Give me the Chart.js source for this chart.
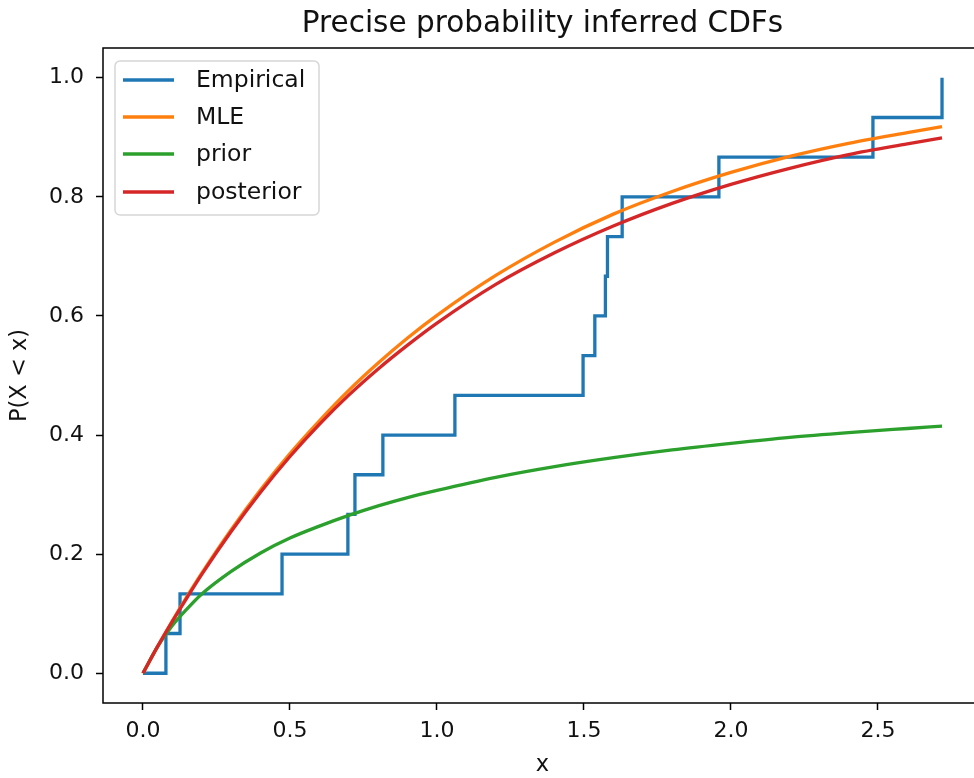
<!DOCTYPE html>
<html>
<head>
<meta charset="utf-8">
<script src="https://cdn.jsdelivr.net/npm/chart.js@4/dist/chart.umd.min.js"></script>
<style>
  html, body { margin: 0; padding: 0; background: #fff; overflow: hidden; }
  #wrap { position: absolute; left: 0; top: 0; width: 990px; height: 778px; }
</style>
</head>
<body>
<div id="wrap"><canvas id="c" width="990" height="778"></canvas></div>
<script>
// ---- data ----
const chartTitle = 'Precise probability inferred CDFs';
const xLabel = 'x';
const yLabel = 'P(X < x)';
const seriesNames = ['Empirical', 'MLE', 'prior', 'posterior'];
const seriesColors = ['#1f77b4', '#ff7f0e', '#2ca02c', '#d62728'];

// empirical CDF jump locations and levels
const empiricalX = [0, 0.078, 0.126, 0.473, 0.697, 0.721, 0.816, 1.061, 1.497, 1.537, 1.573, 1.580, 1.630, 1.959, 2.483, 2.718];
const empiricalY = [0, 0.0667, 0.1333, 0.2, 0.2667, 0.3333, 0.4, 0.4667, 0.5333, 0.6, 0.6667, 0.7333, 0.8, 0.8667, 0.9333, 1.0];

// smooth curves sampled at these x positions
const curveX = [0, 0.05, 0.1, 0.15, 0.2, 0.3, 0.4, 0.5, 0.6, 0.7, 0.8, 0.9, 1.0, 1.2, 1.4, 1.6, 1.8, 2.0, 2.2, 2.4, 2.6, 2.718];
const mleY = [0, 0.045, 0.088, 0.129, 0.168, 0.241, 0.308, 0.369, 0.424, 0.475, 0.521, 0.563, 0.601, 0.668, 0.724, 0.771, 0.809, 0.841, 0.868, 0.890, 0.908, 0.918];
const priorY = [0, 0.045, 0.080, 0.108, 0.133, 0.171, 0.202, 0.227, 0.247, 0.265, 0.281, 0.295, 0.307, 0.329, 0.347, 0.362, 0.375, 0.386, 0.396, 0.404, 0.411, 0.415];
const posteriorY = [0, 0.045, 0.087, 0.127, 0.166, 0.238, 0.304, 0.364, 0.418, 0.467, 0.511, 0.551, 0.588, 0.653, 0.706, 0.751, 0.789, 0.821, 0.848, 0.871, 0.889, 0.899];

const xTicks = [0, 0.5, 1.0, 1.5, 2.0, 2.5];
const yTicks = [0, 0.2, 0.4, 0.6, 0.8, 1.0];

// ---- build ----
const FONT = 'DejaVu Sans';
const toPts = (xs, ys) => xs.map((x, i) => ({ x: x, y: ys[i] }));

const datasets = [
  { label: seriesNames[0], data: toPts(empiricalX, empiricalY), borderColor: seriesColors[0], stepped: 'before', order: 3 },
  { label: seriesNames[1], data: toPts(curveX, mleY), borderColor: seriesColors[1], cubicInterpolationMode: 'monotone', order: 2 },
  { label: seriesNames[2], data: toPts(curveX, priorY), borderColor: seriesColors[2], cubicInterpolationMode: 'monotone', order: 1 },
  { label: seriesNames[3], data: toPts(curveX, posteriorY), borderColor: seriesColors[3], cubicInterpolationMode: 'monotone', order: 0 }
].map(d => Object.assign({ borderWidth: 3.3, pointRadius: 0, fill: false, backgroundColor: d.borderColor }, d));

const decor = {
  id: 'decor',
  afterDraw(chart) {
    const ctx = chart.ctx, a = chart.chartArea;
    ctx.save();
    // frame
    ctx.strokeStyle = '#000';
    ctx.lineWidth = 1.5;
    ctx.strokeRect(a.left, a.top, a.right - a.left, a.bottom - a.top);
    // title
    ctx.fillStyle = '#111';
    ctx.textAlign = 'center';
    ctx.textBaseline = 'alphabetic';
    ctx.font = '29.5px "' + FONT + '"';
    ctx.fillText(chartTitle, (a.left + a.right) / 2, 32);
    // axis labels
    ctx.font = '22.5px "' + FONT + '"';
    ctx.textBaseline = 'middle';
    ctx.fillText(xLabel, (a.left + a.right) / 2, 765);
    ctx.save();
    ctx.translate(20, (a.top + a.bottom) / 2);
    ctx.rotate(-Math.PI / 2);
    ctx.fillText(yLabel, 0, 0);
    ctx.restore();
    // legend
    const lx = 115, ly = 61, lw = 204, lh = 154, r = 5;
    ctx.beginPath();
    ctx.moveTo(lx + r, ly);
    ctx.arcTo(lx + lw, ly, lx + lw, ly + lh, r);
    ctx.arcTo(lx + lw, ly + lh, lx, ly + lh, r);
    ctx.arcTo(lx, ly + lh, lx, ly, r);
    ctx.arcTo(lx, ly, lx + lw, ly, r);
    ctx.closePath();
    ctx.fillStyle = 'rgba(255,255,255,0.8)';
    ctx.fill();
    ctx.strokeStyle = 'rgba(204,204,204,0.8)';
    ctx.lineWidth = 1.5;
    ctx.stroke();
    const rows = [80, 117, 154, 192];
    ctx.textAlign = 'left';
    ctx.textBaseline = 'middle';
    ctx.font = '23.5px "' + FONT + '"';
    chart.data.datasets.forEach((d, i) => {
      ctx.strokeStyle = d.borderColor;
      ctx.lineWidth = 3.3;
      ctx.beginPath();
      ctx.moveTo(123, rows[i]);
      ctx.lineTo(174, rows[i]);
      ctx.stroke();
      ctx.fillStyle = '#111';
      ctx.fillText(d.label, 196, rows[i] + 1);
    });
    ctx.restore();
  }
};

new Chart(document.getElementById('c'), {
  type: 'line',
  data: { datasets: datasets },
  plugins: [decor],
  options: {
    responsive: false,
    animation: false,
    devicePixelRatio: 1,
    layout: { padding: { top: 48, right: 8, left: 0, bottom: 0 } },
    plugins: { legend: { display: false }, title: { display: false }, tooltip: { enabled: false } },
    scales: {
      x: {
        type: 'linear', min: -0.136, max: 2.854,
        afterBuildTicks: s => { s.ticks = xTicks.map(v => ({ value: v })); },
        afterFit: s => { s.height = 75; },
        ticks: { callback: v => Number(v).toFixed(1), font: { family: FONT, size: 22 }, color: '#111', padding: 8, maxRotation: 0, autoSkip: false },
        grid: { drawOnChartArea: false, drawTicks: true, tickLength: 7, tickWidth: 1.5, tickColor: '#000' },
        border: { display: false }
      },
      y: {
        type: 'linear', min: -0.05, max: 1.05,
        afterBuildTicks: s => { s.ticks = yTicks.map(v => ({ value: v })); },
        afterFit: s => { s.width = 103; },
        ticks: { callback: v => Number(v).toFixed(1), font: { family: FONT, size: 22 }, color: '#111', padding: 12, autoSkip: false },
        grid: { drawOnChartArea: false, drawTicks: true, tickLength: 7, tickWidth: 1.5, tickColor: '#000' },
        border: { display: false }
      }
    }
  }
});
</script>
</body>
</html>
